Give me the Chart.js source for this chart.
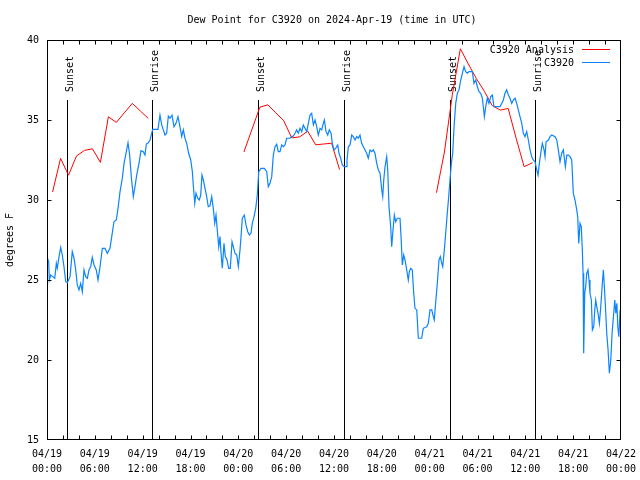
<!DOCTYPE html>
<html><head><meta charset="utf-8">
<script src="https://cdn.jsdelivr.net/npm/chart.js@4.4.1/dist/chart.umd.min.js"></script>
<style>html,body{margin:0;padding:0;background:#fff}canvas{display:block}</style>
</head><body>
<canvas id="c" width="640" height="480"></canvas>
<script>
const chartTitle = 'Dew Point for C3920 on 2024-Apr-19 (time in UTC)';
const yAxisTitle = 'degrees F';
const tickDates = ['04/19','04/19','04/19','04/19','04/20','04/20','04/20','04/20','04/21','04/21','04/21','04/21','04/22'];
const tickTimes = ['00:00','06:00','12:00','18:00','00:00','06:00','12:00','18:00','00:00','06:00','12:00','18:00','00:00'];
const seriesNames = ['C3920 Analysis', 'C3920'];

// hours since 04/19 00:00 UTC; null marks a gap
const analysisHours = [0.7,1.7,2.7,3.7,4.7,5.7,6.7,7.7,8.7,9.7,10.7,11.7,12.7, 18,
  24.7,25.7,26.7,27.7,28.7,29.7,30.7,31.7,32.7,33.7,34.7,35.7,36.7, 42,
  48.85,49.85,50.85,51.85,52.85,53.85,54.85,55.85,56.85,57.85,58.85,59.85,60.9];
const analysisDew = [30.5,32.6,31.55,32.75,33.1,33.2,32.35,35.2,34.85,35.45,36.04,35.57,35.1, null,
  33.0,34.4,35.8,35.95,35.45,34.95,33.88,33.95,34.3,33.45,33.5,33.55,31.9, null,
  30.45,33.0,36.6,39.45,38.5,37.6,36.8,35.9,35.62,35.72,33.85,32.08,32.33];

const obsHours = [0.00,0.21,0.29,0.46,0.72,0.97,1.17,1.29,1.51,1.72,1.92,2.13,2.35,2.55,2.89,3.17,3.39,3.60,3.80,4.01,4.23,4.43,4.64,4.85,5.06,5.27,5.48,5.68,5.90,6.18,6.40,6.65,6.94,7.28,7.56,7.90,8.12,8.40,8.69,8.91,9.16,9.45,9.66,9.91,10.16,10.37,10.57,10.83,11.04,11.25,11.54,11.79,12.08,12.29,12.46,12.71,12.92,13.13,13.26,13.92,14.17,14.39,14.59,14.80,15.01,15.22,15.43,15.68,15.93,16.18,16.43,16.68,16.90,17.10,17.31,17.52,17.77,18.03,18.23,18.35,18.53,18.69,18.90,19.10,19.28,19.44,19.61,19.82,20.03,20.23,20.45,20.66,20.86,21.04,21.20,21.36,21.54,21.70,21.83,21.99,22.20,22.37,22.58,22.79,22.99,23.21,23.37,23.58,23.80,24.00,24.21,24.34,24.50,24.75,24.96,25.18,25.38,25.59,25.75,25.97,26.18,26.38,26.56,26.84,27.26,27.56,27.76,27.97,28.19,28.39,28.60,28.81,29.01,29.23,29.44,29.64,29.85,30.07,30.48,30.70,30.90,31.11,31.32,31.52,31.74,31.95,32.15,32.36,32.58,32.78,32.99,33.20,33.41,33.62,33.83,34.03,34.25,34.46,34.66,34.79,35.00,35.21,35.41,35.63,35.79,36.00,36.21,36.47,36.63,36.84,37.04,37.29,37.51,37.63,37.80,38.01,38.22,38.42,38.64,38.85,39.05,39.26,39.47,39.68,39.89,40.10,40.30,40.52,40.73,40.93,41.14,41.36,41.56,41.77,41.99,42.11,42.24,42.40,42.61,42.74,42.90,43.11,43.24,43.40,43.57,43.74,43.94,44.28,44.41,44.57,44.74,44.91,45.12,45.32,45.45,45.62,45.82,46.00,46.16,46.38,46.58,47.00,47.20,47.63,47.83,48.04,48.26,48.46,48.58,48.76,48.96,49.17,49.34,49.51,49.64,49.84,50.01,50.21,50.39,50.55,50.72,50.89,51.06,51.27,51.47,51.68,51.90,52.10,52.31,52.52,52.72,52.94,53.35,53.56,53.78,53.98,54.19,54.40,54.61,54.73,54.86,55.03,55.23,55.44,55.66,55.86,56.07,56.82,57.04,57.24,57.45,57.66,57.87,58.08,58.29,58.49,58.71,58.92,59.12,59.33,59.55,59.75,59.96,60.17,60.38,60.59,60.80,61.00,61.22,61.43,61.59,61.76,61.93,62.13,62.35,62.47,62.60,62.89,63.10,63.31,63.73,63.94,64.14,64.35,64.56,64.77,64.89,65.02,65.20,65.40,65.61,65.82,66.02,66.23,66.45,66.57,66.70,66.86,67.02,67.15,67.24,67.32,67.45,67.57,67.70,67.86,67.99,68.11,68.28,68.41,68.58,68.71,68.83,68.96,69.12,69.29,69.46,69.66,69.79,69.96,70.09,70.21,70.38,70.54,70.72,70.88,71.05,71.22,71.35,71.48,71.60,71.73,71.89];
const obsDew = [26.46,26.14,25.00,25.31,25.21,25.11,26.04,25.73,26.46,27.04,26.56,25.83,24.89,24.83,25.21,26.77,26.36,25.63,24.69,24.38,24.79,24.27,25.63,25.21,25.11,25.63,25.83,26.42,25.94,25.63,25.00,25.83,26.98,26.98,26.67,26.98,27.71,28.64,28.75,29.48,30.52,31.36,32.29,32.92,33.58,32.81,31.46,30.21,30.83,31.56,32.29,33.08,33.02,32.81,33.50,33.58,33.75,34.17,34.42,34.42,35.31,34.69,34.38,34.06,34.17,35.25,35.11,35.31,34.58,34.79,35.21,34.58,33.96,34.38,33.86,33.54,32.92,32.50,31.77,30.94,29.79,30.42,30.11,30.00,30.31,31.56,31.25,30.73,30.21,29.58,29.63,30.21,29.48,28.54,29.06,28.13,27.08,27.71,26.67,25.73,27.29,26.46,26.25,25.73,25.73,27.39,27.08,26.67,26.56,25.83,26.88,27.71,28.86,29.06,28.44,28.02,27.81,27.92,28.54,28.96,29.48,30.31,31.77,31.98,31.98,31.77,30.83,31.04,31.46,32.81,33.33,33.48,33.02,33.02,33.44,33.33,33.44,33.86,33.86,33.96,34.00,34.17,34.38,34.17,34.48,34.27,34.69,34.48,34.27,34.79,35.31,35.42,34.69,35.00,34.58,34.06,34.48,34.38,34.79,35.00,34.27,34.06,34.38,34.17,33.54,33.13,33.23,33.44,32.92,32.61,32.19,32.08,32.08,32.50,33.33,33.44,34.06,33.96,33.75,33.96,33.86,34.06,33.54,33.33,33.13,32.92,32.61,33.13,33.02,33.13,32.92,32.29,31.88,31.67,30.63,30.21,31.25,32.08,32.71,31.88,29.58,28.33,27.08,28.13,29.06,28.64,28.86,28.86,27.71,25.94,26.56,26.25,25.63,25.00,25.52,25.73,25.63,24.17,23.23,23.13,21.36,21.36,21.98,22.08,22.29,23.13,23.13,22.71,22.50,23.64,24.79,26.25,26.46,26.04,25.83,26.88,27.92,29.17,30.21,31.25,32.29,32.92,34.58,36.04,36.67,36.88,37.50,37.92,38.33,38.02,37.92,38.02,38.02,37.29,37.50,37.08,36.77,36.67,36.36,35.83,35.21,35.83,36.36,36.04,36.46,36.56,35.83,35.83,36.04,36.25,36.67,36.88,36.56,36.36,36.04,36.25,36.36,36.04,35.63,35.21,34.79,34.17,33.96,34.27,33.75,33.13,32.71,32.50,32.39,31.88,31.56,32.29,32.92,33.54,33.13,32.71,33.64,33.75,33.96,34.06,33.96,33.75,33.13,32.39,32.92,33.13,32.61,32.08,32.81,32.81,32.71,32.50,30.42,30.00,29.38,28.96,27.29,28.54,28.33,26.88,25.42,20.42,24.17,24.58,25.42,25.63,25.00,24.17,23.75,21.88,22.08,23.13,23.75,23.33,22.92,22.29,23.33,24.79,25.63,24.17,22.92,21.67,20.63,19.17,20.00,21.67,22.71,23.75,22.92,23.54,22.08,21.46,23.13];

const sunHours = [2.51, 13.16, 26.45, 37.24, 50.53, 61.18];
const sunLabels = ['Sunset','Sunrise','Sunset','Sunrise','Sunset','Sunrise'];

const FONT = '"DejaVu Sans Mono", "Liberation Mono", monospace';
const RED = '#ff0000';
const BLUE = '#0a84ff';

const overlay = {
  id: 'overlay',
  beforeDatasetsDraw(chart) {
    const ctx = chart.ctx, a = chart.chartArea, xs = chart.scales.x;
    ctx.save();
    ctx.strokeStyle = '#000'; ctx.lineWidth = 1;
    ctx.fillStyle = '#000';
    ctx.font = '10px ' + FONT;
    sunHours.forEach((h, i) => {
      const px = Math.round(xs.getPixelForValue(h)) + 0.5;
      ctx.beginPath(); ctx.moveTo(px, a.top + 60); ctx.lineTo(px, a.bottom); ctx.stroke();
      ctx.save();
      ctx.translate(px + 5, a.top + 52);
      ctx.rotate(-Math.PI / 2);
      ctx.textAlign = 'left'; ctx.textBaseline = 'alphabetic';
      ctx.fillText(sunLabels[i], 0, 0);
      ctx.restore();
    });
    ctx.restore();
  },
  afterDraw(chart) {
    const ctx = chart.ctx, a = chart.chartArea, xs = chart.scales.x, ys = chart.scales.y;
    ctx.save();
    ctx.strokeStyle = '#000'; ctx.lineWidth = 1; ctx.fillStyle = '#000';
    const L = Math.round(a.left) + 0.5, R = Math.round(a.right) - 0.5, T = Math.round(a.top) + 0.5, B = Math.round(a.bottom) - 0.5;
    ctx.strokeRect(L, T, R - L, B - T);
    ctx.beginPath();
    for (let h = 2; h < 72; h += 2) {
      const px = Math.round(xs.getPixelForValue(h)) + 0.5;
      ctx.moveTo(px, B); ctx.lineTo(px, B - 4);
      ctx.moveTo(px, T); ctx.lineTo(px, T + 4);
    }
    for (let v = 20; v < 40; v += 5) {
      const py = Math.round(ys.getPixelForValue(v)) + 0.5;
      ctx.moveTo(L, py); ctx.lineTo(L + 4, py);
      ctx.moveTo(R, py); ctx.lineTo(R - 4, py);
    }
    ctx.stroke();
    ctx.font = '10px ' + FONT;
    ctx.textAlign = 'center'; ctx.textBaseline = 'middle';
    ctx.fillText(chartTitle, 332, 20);
    ctx.save();
    ctx.translate(10, (a.top + a.bottom) / 2);
    ctx.rotate(-Math.PI / 2);
    ctx.fillText(yAxisTitle, 0, 0);
    ctx.restore();
    // legend
    const colors = [RED, BLUE];
    seriesNames.forEach((n, i) => {
      const y = 50 + i * 13;
      ctx.fillStyle = '#000'; ctx.textAlign = 'right';
      ctx.fillText(n, 574, y);
      ctx.strokeStyle = colors[i];
      ctx.beginPath(); ctx.moveTo(582, y - 0.5); ctx.lineTo(610, y - 0.5); ctx.stroke();
    });
    ctx.restore();
  }
};

new Chart(document.getElementById('c'), {
  type: 'line',
  data: {
    datasets: [
      { label: seriesNames[0], data: analysisHours.map((h, i) => ({x: h, y: analysisDew[i]})),
        borderColor: RED, backgroundColor: RED, borderWidth: 1, pointRadius: 0, spanGaps: false, order: 1 },
      { label: seriesNames[1], data: obsHours.map((h, i) => ({x: h, y: obsDew[i]})),
        borderColor: BLUE, backgroundColor: BLUE, borderWidth: 1.2, pointRadius: 0, order: 0 }
    ]
  },
  options: {
    responsive: false, animation: false, devicePixelRatio: 1,
    layout: { padding: { top: 40, right: 19, left: 0, bottom: 0 } },
    plugins: { legend: { display: false }, title: { display: false }, tooltip: { enabled: false } },
    elements: { line: { tension: 0 } },
    scales: {
      x: { type: 'linear', min: 0, max: 72,
        afterFit(s) { s.height = 40; s.paddingLeft = 0; s.paddingRight = 0; },
        grid: { display: false, drawTicks: false }, border: { display: false },
        ticks: { stepSize: 6, autoSkip: false, maxRotation: 0, padding: 7, color: '#000',
          font: { family: FONT, size: 10, lineHeight: 1.5 },
          callback: (v) => { const i = v / 6; return Number.isInteger(i) ? [tickDates[i], tickTimes[i]] : ''; } } },
      y: { min: 15, max: 40,
        afterFit(s) { s.width = 47; s.paddingTop = 0; s.paddingBottom = 0; },
        grid: { display: false, drawTicks: false }, border: { display: false },
        ticks: { stepSize: 5, padding: 8, color: '#000', font: { family: FONT, size: 10 } } }
    }
  },
  plugins: [overlay]
});
</script>
</body></html>
